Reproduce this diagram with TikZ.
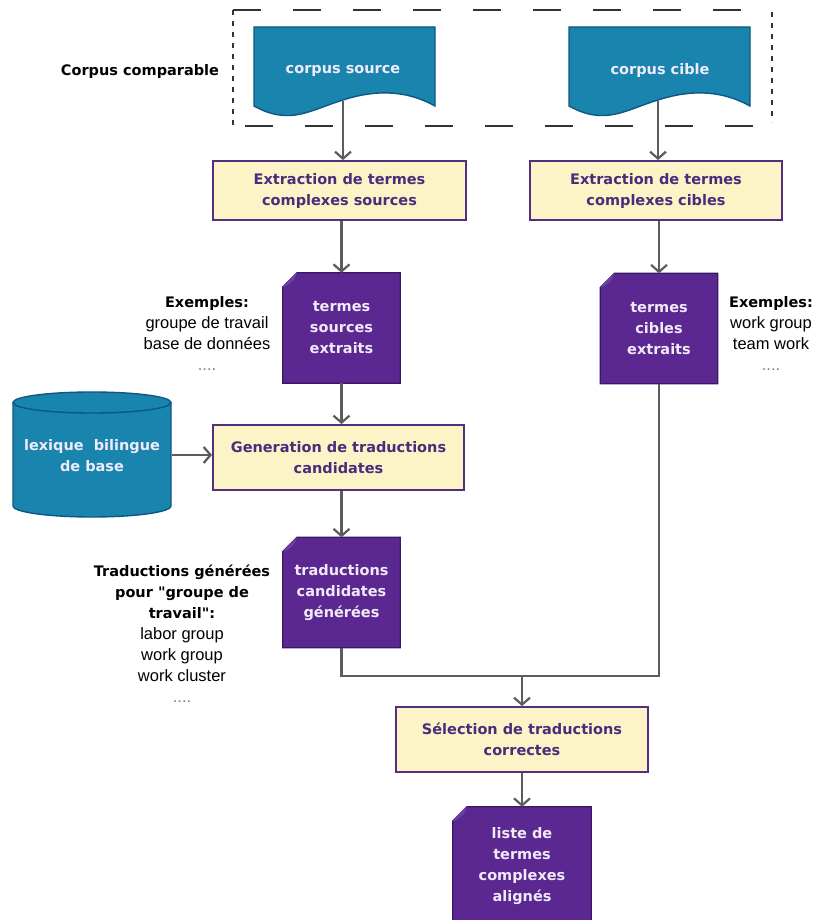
\documentclass[tikz,border=0pt]{standalone}
\usepackage{fontspec}
\setmainfont{Liberation Sans}
\newfontfamily\dejav{DejaVu Sans}
\newcommand\bfann{\dejav\bfseries\fontsize{14.5}{21}\selectfont}
\usetikzlibrary{arrows.meta,calc,backgrounds}
\pgfdeclarelayer{paper}
\pgfsetlayers{paper,background,main}
\definecolor{teal1}{HTML}{1985AF}
\definecolor{teal2}{HTML}{0D5780}
\definecolor{purp1}{HTML}{5B2790}
\definecolor{purp2}{HTML}{3A1766}
\definecolor{purpfold}{HTML}{7040A5}
\definecolor{yel}{HTML}{FCF4C6}
\definecolor{ybord}{HTML}{52307F}
\definecolor{ytext}{HTML}{4B2C7C}
\definecolor{arrc}{HTML}{5C5C5C}
\definecolor{dtext}{HTML}{F1EAF8}
\definecolor{dashc}{HTML}{333333}
\begin{document}
\begin{tikzpicture}[x=1pt,y=-1pt,
  bfont/.style={font=\dejav\bfseries\fontsize{14.5}{21}\selectfont},
  yellowbox/.style={draw=ybord, line width=1.8pt, fill=yel, bfont, text=ytext,
    align=center, inner sep=0pt},
  docnode/.style={bfont, text=dtext, align=center, inner sep=0pt,
    minimum width=117, minimum height=110},
  pdocshape/.style={fill=purp1, draw=purp2, line width=1.2pt},
  tdocshape/.style={fill=teal1, draw=teal2, line width=1.4pt},
  annot/.style={align=center, inner sep=0pt, text=black,
    font=\fontsize{16.5}{21}\selectfont},
  arr/.style={draw=arrc, line width=2.2pt, -{Straight Barb[length=7pt,width=16pt]}},
  ln/.style={draw=arrc, line width=2.2pt},
  dashedge/.style={draw=dashc, line width=1.6pt}
]
\clip (0,0) rectangle (814,920);
\begin{pgfonlayer}{paper}
\fill[white] (0,0) rectangle (814,920);
\end{pgfonlayer}

% dashed frame "corpus comparable"
\draw[dashedge, dash pattern=on 28pt off 32pt] (233,10) -- (772,10);
\draw[dashedge, dash pattern=on 28pt off 32pt] (245,126) -- (772,126);
\draw[dashedge, dash pattern=on 5pt off 6pt] (233,10) -- (233,126);
\draw[dashedge, dash pattern=on 5pt off 6pt] (772,12) -- (772,122);

% teal documents
\draw[tdocshape] (254,27) -- (435,27) -- (435,106)
  .. controls (410,92) and (380,88) .. (343,100)
  .. controls (310,110) and (290,126) .. (254,106) -- cycle;
\draw[tdocshape] (569,27) -- (750,27) -- (750,106)
  .. controls (725,92) and (695,88) .. (658,100)
  .. controls (625,110) and (605,126) .. (569,106) -- cycle;
\coordinate (csrcw) at (343,101);
\coordinate (cciw) at (658,101);

% cylinder
\draw[tdocshape] (13,402) -- (13,506)
  .. controls (13,512) and (48,517) .. (92,517)
  .. controls (136,517) and (171,512) .. (171,506) -- (171,402);
\draw[tdocshape] (92,402.5) ellipse [x radius=79, y radius=10.5];
\coordinate (lexr) at (172,455);

% text nodes
\node[bfont, text=black] (cclabel) at (140,72) {Corpus comparable};
\node[bfont, text=dtext] (csrc) at (343,71) {corpus source};
\node[bfont, text=dtext] (ccib) at (660,71) {corpus cible};

\node[yellowbox, minimum width=253, minimum height=59] (exs) at (339.5,190.5)
  {Extraction de termes\\complexes sources};
\node[yellowbox, minimum width=252, minimum height=59] (exc) at (656,190.5)
  {Extraction de termes\\complexes cibles};

\node[docnode] (tse) at (341.5,328) {termes\\sources\\extraits};
\node[docnode] (tce) at (659,328.5) {termes\\cibles\\extraits};

\node[yellowbox, minimum width=251, minimum height=65] (gen) at (338.5,457.5)
  {Generation de traductions\\candidates};
\node[bfont, text=dtext, align=center] (lex) at (92,456) {lexique~ bilingue\\de base};

\node[docnode] (tcg) at (341.5,592.5) {traductions\\candidates\\g\'en\'er\'ees};

\node[yellowbox, minimum width=252, minimum height=65] (sel) at (522,739.5)
  {S\'election de traductions\\correctes};

\node[docnode, minimum width=138, minimum height=118] (lst) at (522,866)
  {liste de\\termes\\complexes\\align\'es};

\node[annot] (ex1) at (207,333)
  {{\bfann Exemples:}\\groupe de travail\\base de donn\'ees\\{\color{gray}....}};
\node[annot] (ex2) at (771,333)
  {{\bfann Exemples:}\\work group\\team work\\{\color{gray}....}};
\node[annot] (trg) at (182,634)
  {{\bfann Traductions g\'en\'er\'ees}\\{\bfann pour "groupe de}\\{\bfann travail":}\\labor group\\work group\\work cluster\\{\color{gray}....}};

% purple documents behind text
\begin{pgfonlayer}{background}
\foreach \n in {tse,tce,tcg,lst}{
  \draw[pdocshape] ($(\n.north west)+(14,0)$) -- (\n.north east) -- (\n.south east)
    -- (\n.south west) -- ($(\n.north west)+(0,14)$) -- cycle;
  \fill[purpfold] ($(\n.north west)+(0,14)$) -- ($(\n.north west)+(14,0)$)
    .. controls ($(\n.north west)+(11,8)$) .. ($(\n.north west)+(2,14)$) -- cycle;
}
\end{pgfonlayer}

% connectors
\draw[arr] (csrcw) -- (csrcw |- exs.north);
\draw[arr] (cciw) -- (cciw |- exc.north);
\draw[arr] (tse.north |- exs.south) -- (tse.north);
\draw[arr] (tce.north |- exc.south) -- (tce.north);
\draw[arr] (tse.south) -- (tse.south |- gen.north);
\draw[arr] (lexr) -- (lexr -| gen.west);
\draw[arr] (tcg.north |- gen.south) -- (tcg.north);
\coordinate (mrg) at ($(sel.north)+(0,-30)$);
\draw[ln] (tcg.south) |- (mrg);
\draw[ln] (tce.south) |- (mrg);
\draw[arr] (mrg) -- (sel.north);
\draw[arr] (sel.south) -- (lst.north);
\end{tikzpicture}
\end{document}
